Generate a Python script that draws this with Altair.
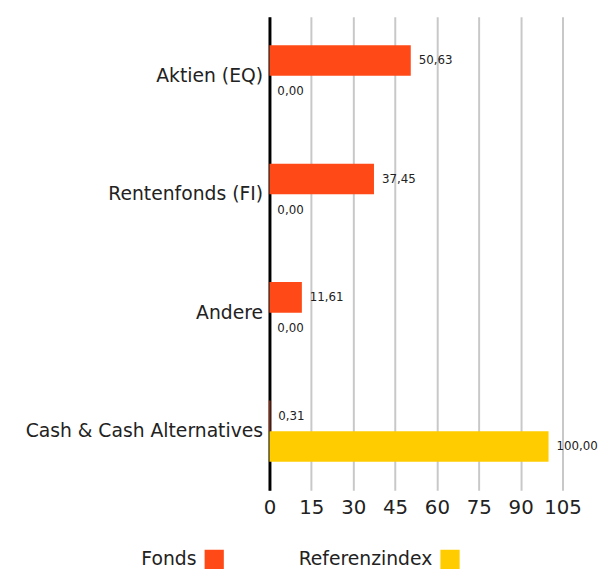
import altair as alt
import pandas as pd

categories = ["Aktien (EQ)", "Rentenfonds (FI)", "Andere", "Cash & Cash Alternatives"]
series = ["Fonds", "Referenzindex"]
fonds = [50.63, 37.45, 11.61, 0.31]
referenz = [0.00, 0.00, 0.00, 100.00]
x_ticks = [0, 15, 30, 45, 60, 75, 90, 105]
colors = ["#FF4A17", "#FFCC00"]

rows = []
for c, f, r in zip(categories, fonds, referenz):
    rows.append({"cat": c, "series": series[0], "value": f, "label": f"{f:.2f}".replace(".", ",")})
    rows.append({"cat": c, "series": series[1], "value": r, "label": f"{r:.2f}".replace(".", ",")})
df = pd.DataFrame(rows)

FONT = "DejaVu Sans"

y_enc = alt.Y("cat:N", sort=categories, title=None,
              scale=alt.Scale(paddingInner=0.483, paddingOuter=0.24),
              axis=alt.Axis(labelFontSize=19, labelColor="#222222", labelFont=FONT,
                            ticks=False, domain=True, domainColor="#000000", domainWidth=3,
                            labelPadding=7, grid=False, labelLimit=400))
yoff = alt.YOffset("series:N", sort=series, scale=alt.Scale(paddingInner=0, paddingOuter=0))

base = alt.Chart(df).encode(y=y_enc, yOffset=yoff)

bars = base.mark_bar().encode(
    x=alt.X("value:Q", title=None,
            scale=alt.Scale(domain=[0, 105], nice=False, zero=True),
            axis=alt.Axis(values=x_ticks, labelFontSize=20, labelColor="#222222", labelFont=FONT,
                          ticks=False, domain=False, grid=True, gridColor="#c8c8c8", gridWidth=2,
                          labelPadding=8, format="d", labelOverlap=False, labelFlush=False)),
    color=alt.Color("series:N", sort=series, scale=alt.Scale(domain=series, range=colors),
                    legend=alt.Legend(title=None, orient="none", legendX=-66, legendY=540,
                                      direction="horizontal",
                                      symbolType="square", symbolSize=380, symbolStrokeWidth=0,
                                      labelFontSize=19, labelColor="#222222", labelFont=FONT,
                                      labelAlign="right", labelOffset={"expr": "-28"},
                                      columnPadding=75)),
)

texts = base.mark_text(align="left", baseline="middle", dx=8, fontSize=12, font=FONT,
                       color="#222222").encode(
    x=alt.X("value:Q"),
    text="label:N",
)

chart = (bars + texts).properties(width=297, height=480,
                                  padding={"top": 5, "left": 17, "right": 2, "bottom": 0}
                                  ).configure_view(stroke=None)

chart.save("out.html", embed_options={"renderer": "svg", "actions": False})
